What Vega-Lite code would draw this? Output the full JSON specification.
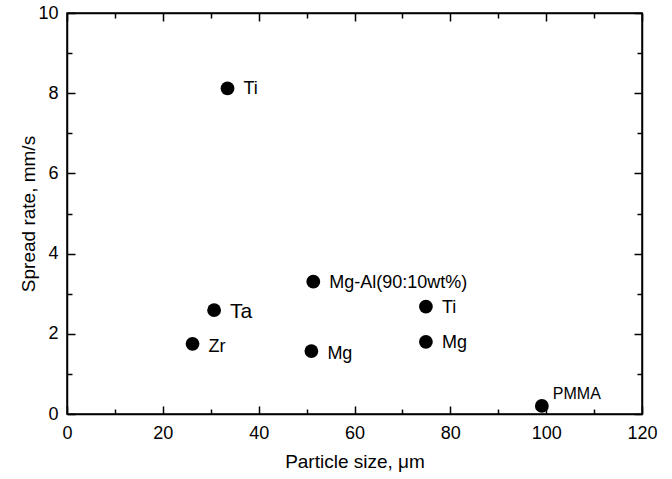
{
  "$schema": "https://vega.github.io/schema/vega-lite/v6.json",
  "autosize": "none",
  "padding": {"left": 67, "top": 13, "right": 30, "bottom": 65},
  "width": 575,
  "height": 401,
  "config": {
    "font": "Liberation Sans",
    "view": {"stroke": "black", "strokeWidth": 1.5},
    "axis": {
      "grid": false,
      "domainColor": "black",
      "domainWidth": 1.5,
      "tickColor": "black",
      "tickWidth": 1.5,
      "labelColor": "black",
      "labelFont": "Liberation Sans",
      "labelFontSize": 18,
      "titleFont": "Liberation Sans",
      "titleFontSize": 19,
      "titleFontWeight": "normal",
      "titleColor": "black"
    }
  },
  "data": {
    "values": [
      {"size": 33.5, "rate": 8.12, "label": "Ti", "group": "normal"},
      {"size": 30.7, "rate": 2.59, "label": "Ta", "group": "big"},
      {"size": 26.2, "rate": 1.75, "label": "Zr", "group": "low"},
      {"size": 51.4, "rate": 3.3, "label": "Mg-Al(90:10wt%)", "group": "normal"},
      {"size": 51.0, "rate": 1.57, "label": "Mg", "group": "low"},
      {"size": 74.9, "rate": 2.68, "label": "Ti", "group": "normal"},
      {"size": 74.9, "rate": 1.8, "label": "Mg", "group": "normal"},
      {"size": 99.1, "rate": 0.2, "label": "PMMA", "group": "pmma"}
    ]
  },
  "resolve": {"axis": {"x": "independent", "y": "independent"}},
  "layer": [
    {
      "mark": {"type": "point", "filled": true, "shape": "circle", "size": 190, "color": "black", "opacity": 1},
      "encoding": {
        "x": {
          "field": "size", "type": "quantitative",
          "scale": {"domain": [0, 120], "nice": false, "zero": false},
          "axis": {
            "orient": "bottom",
            "title": "Particle size, μm",
            "values": [0,10,20,30,40,50,60,70,80,90,100,110,120],
            "labelExpr": "datum.value % 20 === 0 ? datum.label : ''",
            "tickSize": {"condition": {"test": "datum.value % 20 === 0", "value": -8}, "value": -5},
            "labelPadding": 18,
            "titlePadding": 10,
            "labelFlush": false
          }
        },
        "y": {
          "field": "rate", "type": "quantitative",
          "scale": {"domain": [0, 10], "nice": false},
          "axis": {
            "orient": "left",
            "title": "Spread rate, mm/s",
            "values": [0,1,2,3,4,5,6,7,8,9,10],
            "labelExpr": "datum.value % 2 === 0 ? datum.label : ''",
            "tickSize": {"condition": {"test": "datum.value % 2 === 0", "value": -8}, "value": -5},
            "labelPadding": 17,
            "titlePadding": -1,
            "labelFlush": false
          }
        }
      }
    },
    {
      "transform": [{"filter": "datum.group === 'normal'"}],
      "mark": {"type": "text", "align": "left", "baseline": "middle", "dx": 16, "dy": 1, "fontSize": 18, "font": "Liberation Sans", "color": "black"},
      "encoding": {
        "x": {
          "field": "size", "type": "quantitative",
          "scale": {"domain": [0, 120], "nice": false, "zero": false},
          "axis": {
            "orient": "top",
            "title": null,
            "values": [0,10,20,30,40,50,60,70,80,90,100,110,120],
            "labels": false,
            "tickSize": {"condition": {"test": "datum.value % 20 === 0", "value": -8}, "value": -5}
          }
        },
        "y": {
          "field": "rate", "type": "quantitative",
          "scale": {"domain": [0, 10], "nice": false},
          "axis": {
            "orient": "right",
            "title": null,
            "values": [0,1,2,3,4,5,6,7,8,9,10],
            "labels": false,
            "tickSize": {"condition": {"test": "datum.value % 2 === 0", "value": -8}, "value": -5}
          }
        },
        "text": {"field": "label"}
      }
    },
    {
      "transform": [{"filter": "datum.group === 'big'"}],
      "mark": {"type": "text", "align": "left", "baseline": "middle", "dx": 16, "dy": 2, "fontSize": 21, "font": "Liberation Sans", "color": "black"},
      "encoding": {
        "x": {"field": "size", "type": "quantitative", "scale": {"domain": [0, 120], "nice": false, "zero": false}, "axis": null},
        "y": {"field": "rate", "type": "quantitative", "scale": {"domain": [0, 10], "nice": false}, "axis": null},
        "text": {"field": "label"}
      }
    },
    {
      "transform": [{"filter": "datum.group === 'low'"}],
      "mark": {"type": "text", "align": "left", "baseline": "middle", "dx": 16, "dy": 3, "fontSize": 18, "font": "Liberation Sans", "color": "black"},
      "encoding": {
        "x": {"field": "size", "type": "quantitative", "scale": {"domain": [0, 120], "nice": false, "zero": false}, "axis": null},
        "y": {"field": "rate", "type": "quantitative", "scale": {"domain": [0, 10], "nice": false}, "axis": null},
        "text": {"field": "label"}
      }
    },
    {
      "transform": [{"filter": "datum.group === 'pmma'"}],
      "mark": {"type": "text", "align": "left", "baseline": "middle", "dx": 11, "dy": -12, "fontSize": 16, "font": "Liberation Sans", "color": "black"},
      "encoding": {
        "x": {"field": "size", "type": "quantitative", "scale": {"domain": [0, 120], "nice": false, "zero": false}, "axis": null},
        "y": {"field": "rate", "type": "quantitative", "scale": {"domain": [0, 10], "nice": false}, "axis": null},
        "text": {"field": "label"}
      }
    }
  ]
}
